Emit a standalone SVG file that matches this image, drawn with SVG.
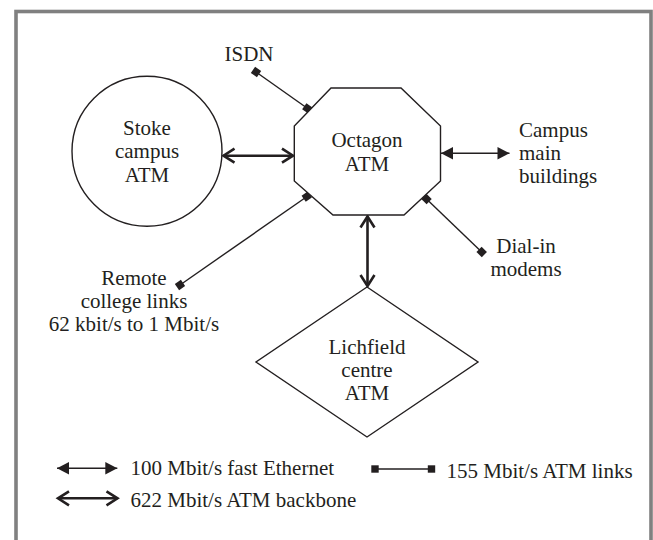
<svg xmlns="http://www.w3.org/2000/svg" width="653" height="540" viewBox="0 0 653 540" font-family="'Liberation Serif', 'Times New Roman', 'DejaVu Serif', serif">
<style>
.shape{fill:#fff;stroke:#231f20;stroke-width:1.4}
text{font-family:'Liberation Serif','Times New Roman','DejaVu Serif',serif;font-size:21px;fill:#231f20}
.c{text-anchor:middle}
.thin{stroke:#231f20;stroke-width:1.4;fill:none}
.thick{stroke:#231f20;stroke-width:2.6;fill:none}
</style>
<defs>
<marker id="open" markerUnits="userSpaceOnUse" markerWidth="18" markerHeight="20" viewBox="-15 -10 18 20" refX="0" refY="0" orient="auto-start-reverse">
<path d="M-11,-7 L0,0 L-11,7" fill="none" stroke="#231f20" stroke-width="2.6"/>
</marker>
<marker id="tri" markerUnits="userSpaceOnUse" markerWidth="16" markerHeight="16" viewBox="-14 -8 16 16" refX="0" refY="0" orient="auto-start-reverse">
<path d="M-12,-6.3 L0,0 L-12,6.3 Z" fill="#231f20"/>
</marker>
<marker id="sq" markerUnits="userSpaceOnUse" markerWidth="10" markerHeight="10" viewBox="-5 -5 10 10" refX="0" refY="0" orient="auto">
<path d="M-3.7,-3.7 h7.4 v7.4 h-7.4 z" fill="#231f20"/>
</marker>
</defs>
<rect x="16" y="11.5" width="635" height="540" fill="#fff" stroke="#808080" stroke-width="3.6"/>

<g id="connectors">
<line class="thick" x1="223.5" y1="155.7" x2="293" y2="155.7" marker-start="url(#open)" marker-end="url(#open)"/>
<line class="thick" x1="367.5" y1="216.5" x2="367.5" y2="286" marker-start="url(#open)" marker-end="url(#open)"/>
<line class="thin" x1="441" y1="153.3" x2="509.5" y2="153.3" marker-start="url(#tri)" marker-end="url(#tri)"/>
<line class="thin" x1="256" y1="72" x2="307.3" y2="108.3" marker-start="url(#sq)" marker-end="url(#sq)"/>
<line class="thin" x1="180" y1="285" x2="306.7" y2="196.7" marker-start="url(#sq)" marker-end="url(#sq)"/>
<line class="thin" x1="426.5" y1="199" x2="481.7" y2="252" marker-start="url(#sq)" marker-end="url(#sq)"/>
</g>

<g id="stoke">
<circle class="shape" cx="147" cy="151.3" r="75"/>
<text class="c" x="147" y="134.5">Stoke</text>
<text class="c" x="147" y="158">campus</text>
<text class="c" x="147" y="181.5">ATM</text>
</g>

<g id="octagon">
<polygon class="shape" points="331,88 401,88 440.5,126 440.5,181 404,215 333,215 294.3,181 294.3,126"/>
<text class="c" x="367" y="147">Octagon</text>
<text class="c" x="367" y="170.5">ATM</text>
</g>

<g id="lichfield">
<polygon class="shape" points="367,287 478,362 367,437 256,362"/>
<text class="c" x="367" y="354">Lichfield</text>
<text class="c" x="367" y="377">centre</text>
<text class="c" x="367" y="400">ATM</text>
</g>

<g id="isdn">
<text class="c" x="249" y="61">ISDN</text>
</g>

<g id="campus-main">
<text x="519" y="136.5">Campus</text>
<text x="519" y="159.5">main</text>
<text x="519" y="182.5">buildings</text>
</g>

<g id="dial-in">
<text class="c" x="526" y="253">Dial-in</text>
<text class="c" x="526" y="275.5">modems</text>
</g>

<g id="remote">
<text class="c" x="134" y="284.5">Remote</text>
<text class="c" x="134" y="307.5">college links</text>
<text class="c" x="134" y="330.5">62 kbit/s to 1 Mbit/s</text>
</g>

<g id="legend">
<line class="thin" x1="57" y1="468.3" x2="117.3" y2="468.3" marker-start="url(#tri)" marker-end="url(#tri)"/>
<text x="130.5" y="474.5">100 Mbit/s fast Ethernet</text>
<line class="thick" x1="58" y1="498.3" x2="117.5" y2="498.3" marker-start="url(#open)" marker-end="url(#open)"/>
<text x="130.5" y="507">622 Mbit/s ATM backbone</text>
<line class="thin" x1="375" y1="469" x2="431.5" y2="469" marker-start="url(#sq)" marker-end="url(#sq)"/>
<text x="446.5" y="477.5">155 Mbit/s ATM links</text>
</g>
</svg>
